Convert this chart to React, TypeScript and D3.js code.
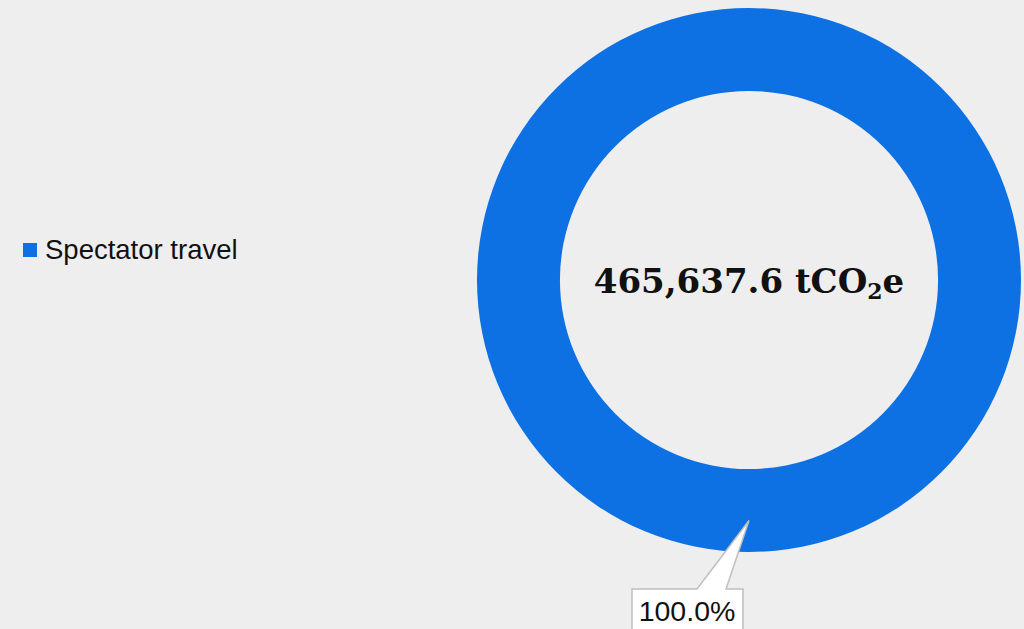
import React from "react";
import * as d3 from "d3";

const categories: string[] = ["Spectator travel"];
const values: number[] = [465637.6];
const colors: string[] = ["#0d71e4"];

const W = 1024;
const H = 629;

export default function App() {
  const cx = 749;
  const cy = 280;
  const outerR = 272;
  const innerR = 189;
  const total = d3.sum(values);
  const pie = d3.pie<number>().sort(null).startAngle(Math.PI).endAngle(Math.PI + 2 * Math.PI)(values);
  const arc = d3.arc<d3.PieArcDatum<number>>().innerRadius(innerR).outerRadius(outerR);
  const fmt = d3.format(",.1f");
  const pct = d3.format(".1%");
  const tipAngle = Math.PI;
  const tipR = (innerR + outerR) / 2 + 10;
  const tipX = cx + Math.sin(tipAngle) * tipR;
  const tipY = cy - Math.cos(tipAngle) * tipR;
  const boxX = 632, boxY = 589, boxW = 111, boxH = 60;
  const calloutPath = `M${boxX},${boxY} L${697},${boxY} L${tipX},${tipY} L${726},${boxY} L${boxX + boxW},${boxY} L${boxX + boxW},${boxY + boxH} L${boxX},${boxY + boxH} Z`;
  return (
    <svg width={W} height={H} style={{ position: "absolute", left: 0, top: 0, display: "block" }}>
      <rect x={0} y={0} width={W} height={H} fill="#eeeeee" />
      <g transform={`translate(${cx},${cy})`}>
        {pie.map((d, i) => (
          <path key={i} d={arc(d) || ""} fill={colors[i]} />
        ))}
      </g>
      <text x={cx} y={293} textAnchor="middle" fontFamily="Georgia, 'DejaVu Serif', serif" fontWeight="bold" fontSize={34} fill="#111">
        {fmt(total)} tCO<tspan fontSize={22} dy={6}>2</tspan><tspan dy={-6}>e</tspan>
      </text>
      <path d={calloutPath} fill="#ffffff" stroke="#bfbfbf" strokeWidth={1.5} />
      {pie.map((d, i) => (
        <text key={i} x={687} y={621} textAnchor="middle" fontFamily="Arial, 'Liberation Sans', sans-serif" fontSize={28.5} fill="#111">
          {pct(d.value / total)}
        </text>
      ))}
      {categories.map((c, i) => (
        <g key={c}>
          <rect x={23} y={243 + i * 30} width={14} height={14} fill={colors[i]} />
          <text x={45} y={259 + i * 30} fontFamily="Arial, 'Liberation Sans', sans-serif" fontSize={27.5} fill="#111">
            {c}
          </text>
        </g>
      ))}
    </svg>
  );
}
